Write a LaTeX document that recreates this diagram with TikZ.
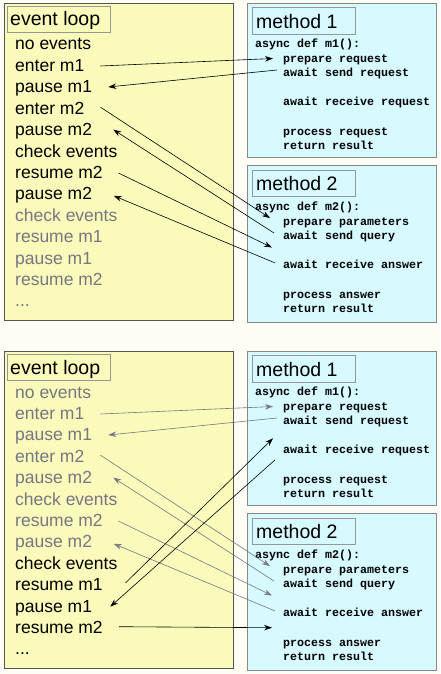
\documentclass[tikz,border=0pt]{standalone}
\usepackage{fontspec}
\setmainfont{Liberation Sans}
\newfontfamily\codefont{Liberation Mono}
\usetikzlibrary{arrows.meta}
\definecolor{bg}{RGB}{253,253,245}
\definecolor{evfill}{RGB}{250,250,186}
\definecolor{mfill}{RGB}{214,250,255}
\definecolor{dim}{RGB}{118,118,132}
\definecolor{boxline}{RGB}{85,85,85}
\definecolor{mline}{RGB}{135,135,135}
\definecolor{tline}{RGB}{150,150,150}
\tikzset{
  evbox/.style={draw=boxline,line width=0.8pt,fill=evfill,anchor=north west,inner sep=0pt},
  mbox/.style={draw=mline,line width=0.8pt,fill=mfill,anchor=north west,inner sep=0pt},
  tbox/.style={draw=tline,line width=0.7pt,anchor=north west,inner sep=0pt},
  titletext/.style={anchor=base west,inner sep=0pt,font=\fontsize{19.5}{22}\selectfont},
  itemtext/.style={anchor=base west,inner sep=0pt,font=\fontsize{17.5}{21}\selectfont},
  codetext/.style={anchor=base west,inner sep=0pt,font=\fontsize{11.67}{14.6}\codefont\bfseries},
  arr/.style={line width=0.6pt,-{Stealth[length=8pt,width=5.5pt]}}
}
\newcommand\drawpanel[5]{%
\begin{scope}[shift={(0,#2)}]
  \node[evbox,minimum width=229,minimum height=317] (#1ev) at (4,3) {};
  \node[tbox,minimum width=103,minimum height=26] (#1evt) at (7,6) {};
  \node[titletext] (#1evl) at (10,26) {event loop};
  \foreach \t/\c [count=\i from 0] in {no events/#3,enter m1/#3,pause m1/#3,enter m2/#3,pause m2/#3,check events/#3,resume m2/#3,pause m2/#3,check events/#4,resume m1/#4,pause m1/#4,resume m2/#4}
    \node[itemtext,text=\c] (#1i\i) at (15,{50+21.4*\i}) {\t};
  \node[itemtext,text=#4] (#1i12) at (15,{50+21.4*12}) {...};
  \node[mbox,minimum width=189,minimum height=154] (#1m1) at (247,3) {};
  \node[tbox,minimum width=103,minimum height=27] (#1m1t) at (252,7) {};
  \node[titletext] (#1m1l) at (256,28.3) {method 1};
  \foreach \k/\x/\t in {0/255/async def m1():,1/283/prepare request,2/283/await send request,4/283/await receive request,6/283/process request,7/283/return result}
    \node[codetext] (#1p\k) at (\x,{47.5+14.6*\k}) {\t};
  \node[mbox,minimum width=189,minimum height=157] (#1m2) at (247,165) {};
  \node[tbox,minimum width=103,minimum height=26] (#1m2t) at (252,170) {};
  \node[titletext] (#1m2l) at (256,190.7) {method 2};
  \foreach \k/\x/\t in {0/255/async def m2():,1/283/prepare parameters,2/283/await send query,4/283/await receive answer,6/283/process answer,7/283/return result}
    \node[codetext] (#1q\k) at (\x,{210.5+14.6*\k}) {\t};
\end{scope}
\draw[arr,#5] ([shift={(16,-5.4)}]#1i1.base east) -- ([shift={(-10,-3.6)}]#1p1.base west);
\draw[arr,#5] ([shift={(-6,-6.7)}]#1p2.base west) -- ([shift={(16,-5.8)}]#1i2.base east);
\draw[arr,#5] ([shift={(16,-7)}]#1i3.base east) -- ([shift={(-13,-7)}]#1q1.base west);
\draw[arr,#5] ([shift={(-9,-6.7)}]#1q2.base west) -- ([shift={(21,-6)}]#1i4.base east);
\draw[arr,#5] ([shift={(15.5,-5.4)}]#1i6.base east) -- ([shift={(-11,7.8)}]#1q2.base west);
\draw[arr,#5] ([shift={(-8,-6)}]#1q4.base west) -- ([shift={(21.5,-4)}]#1i7.base east);
}
\begin{document}
\begin{tikzpicture}[x=1pt,y=-1pt]
\fill[bg] (0,0) rectangle (440,674);
\useasboundingbox (0,0) rectangle (440,674);
\drawpanel{A}{0}{black}{dim}{black}
\drawpanel{B}{348}{dim}{black}{dim}
\draw[arr] ([shift={(22.5,-7.6)}]Bi9.base east) -- ([shift={(-10,13.6)}]Bp2.base west);
\draw[arr] ([shift={(-8,6)}]Bp4.base west) -- ([shift={(18,-5.3)}]Bi10.base east);
\draw[arr] ([shift={(16,-6.7)}]Bi11.base east) -- ([shift={(-11,10.8)}]Bq4.base west);
\end{tikzpicture}
\end{document}
